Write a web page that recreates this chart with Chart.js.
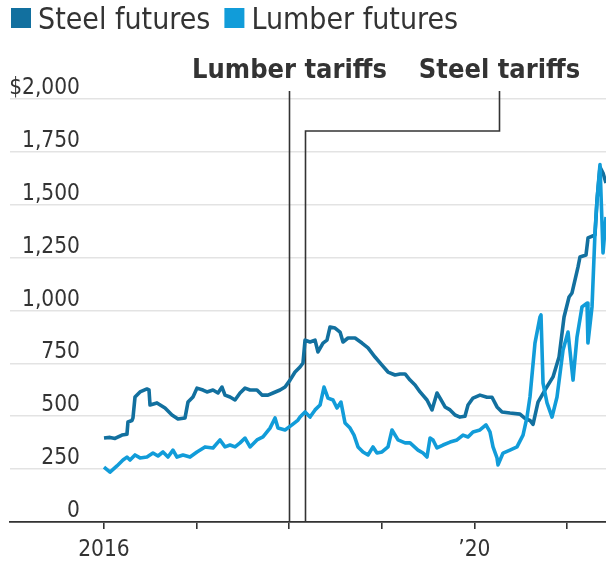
<!DOCTYPE html>
<html>
<head>
<meta charset="utf-8">
<script src="https://cdn.jsdelivr.net/npm/chart.js@4"></script>
<style>
  html, body { margin: 0; padding: 0; background: #fff; }
  #wrap { width: 606px; height: 568px; }
</style>
</head>
<body>
<div id="wrap"><canvas id="futuresChart" width="606" height="568"></canvas></div>
<script>
// Futures prices, dollars; dates are decimal years
const steelYears = [
  2016.000, 2016.065, 2016.119, 2016.194, 2016.248, 2016.259, 2016.302, 2016.313, 2016.335, 2016.389,
  2016.464, 2016.486, 2016.497, 2016.572, 2016.659, 2016.734, 2016.799, 2016.875, 2016.907, 2016.961,
  2017.004, 2017.069, 2017.112, 2017.177, 2017.231, 2017.274, 2017.307, 2017.361, 2017.415, 2017.469,
  2017.523, 2017.577, 2017.652, 2017.706, 2017.771, 2017.825, 2017.901, 2017.955, 2018.009, 2018.063,
  2018.117, 2018.149, 2018.171, 2018.225, 2018.279, 2018.311, 2018.365, 2018.408, 2018.441, 2018.495,
  2018.549, 2018.581, 2018.635, 2018.711, 2018.786, 2018.851, 2018.927, 2019.002, 2019.067, 2019.143,
  2019.197, 2019.251, 2019.305, 2019.359, 2019.413, 2019.488, 2019.542, 2019.596, 2019.629, 2019.683,
  2019.737, 2019.791, 2019.844, 2019.898, 2019.931, 2019.985, 2020.060, 2020.136, 2020.190, 2020.244,
  2020.298, 2020.384, 2020.492, 2020.546, 2020.600, 2020.633, 2020.687, 2020.762, 2020.849, 2020.914,
  2020.968, 2021.022, 2021.054, 2021.119, 2021.140, 2021.205, 2021.227, 2021.302, 2021.324, 2021.356,
  2021.389, 2021.421
];
const steelPrices = [
  397, 400, 395, 411, 415, 473, 480, 492, 591, 615,
  629, 625, 553, 563, 539, 506, 487, 492, 567, 591,
  633, 624, 615, 624, 610, 638, 600, 591, 577, 610,
  633, 624, 624, 600, 600, 610, 624, 638, 671, 709,
  733, 752, 860, 851, 860, 804, 846, 860, 922, 917,
  898, 851, 870, 870, 846, 823, 780, 742, 709, 695,
  700, 700, 671, 648, 615, 577, 530, 610, 586, 544,
  530, 506, 496, 500, 553, 586, 600, 590, 590, 544,
  520, 515, 510, 490, 480, 462, 567, 624, 686, 780,
  969, 1064, 1083, 1206, 1253, 1262, 1343, 1357, 1522, 1678,
  1650, 1603
];

const lumberYears = [
  2016.000, 2016.065, 2016.140, 2016.205, 2016.248, 2016.281, 2016.335, 2016.389, 2016.464, 2016.529,
  2016.583, 2016.637, 2016.691, 2016.745, 2016.788, 2016.853, 2016.929, 2017.004, 2017.091, 2017.177,
  2017.253, 2017.307, 2017.361, 2017.415, 2017.469, 2017.523, 2017.577, 2017.652, 2017.717, 2017.793,
  2017.847, 2017.879, 2017.955, 2018.030, 2018.095, 2018.117, 2018.171, 2018.225, 2018.279, 2018.333,
  2018.376, 2018.419, 2018.473, 2018.516, 2018.559, 2018.603, 2018.657, 2018.700, 2018.743, 2018.797,
  2018.851, 2018.905, 2018.948, 2019.002, 2019.067, 2019.110, 2019.175, 2019.251, 2019.305, 2019.391,
  2019.445, 2019.488, 2019.521, 2019.553, 2019.596, 2019.661, 2019.737, 2019.812, 2019.877, 2019.931,
  2019.985, 2020.060, 2020.125, 2020.168, 2020.201, 2020.244, 2020.255, 2020.309, 2020.384, 2020.460,
  2020.525, 2020.568, 2020.600, 2020.654, 2020.708, 2020.719, 2020.741, 2020.784, 2020.838, 2020.892,
  2020.957, 2021.011, 2021.065, 2021.108, 2021.162, 2021.216, 2021.226, 2021.270, 2021.302, 2021.324,
  2021.356, 2021.389, 2021.421
];
const lumberPrices = [
  260, 236, 265, 293, 307, 293, 317, 303, 307, 326,
  312, 331, 307, 340, 307, 317, 307, 331, 355, 350,
  388, 355, 364, 355, 374, 397, 355, 388, 402, 444,
  492, 444, 435, 459, 482, 496, 520, 496, 530, 553,
  638, 586, 577, 539, 567, 468, 444, 411, 355, 331,
  317, 355, 326, 331, 355, 435, 388, 374, 374, 340,
  326, 307, 397, 388, 350, 364, 378, 388, 411, 402,
  426, 435, 459, 426, 355, 303, 270, 326, 340, 355,
  411, 496, 591, 846, 969, 979, 657, 563, 496, 591,
  813, 898, 671, 875, 1017, 1035, 846, 1017, 1366, 1522,
  1690, 1272, 1442
];

const seriesNames = ['Steel futures', 'Lumber futures'];
const seriesColors = ['#12709f', '#119cd9'];
const yearTicks = [2016, 2017, 2018, 2019, 2020, 2021];
const yearLabels = ['2016', '', '', '', '\u201920', ''];
const priceTicks = [0, 250, 500, 750, 1000, 1250, 1500, 1750, 2000];
const tariffNames = ['Lumber tariffs', 'Steel tariffs'];
const tariffYears = [2018.0, 2018.17];

const FONT = "'Liberation Sans Narrow', 'DejaVu Sans Condensed', sans-serif";
const INK = '#333333';

function toPoints(xs, ys) {
  return xs.map((x, i) => ({ x: x, y: ys[i] }));
}

// legend, price labels and the tariff markers
const overlay = {
  id: 'overlay',
  beforeDatasetsDraw(chart) {
    const { ctx, chartArea, scales } = chart;
    const xl = Math.round(scales.x.getPixelForValue(tariffYears[0])) + 0.5;
    const xs = Math.round(scales.x.getPixelForValue(tariffYears[1])) + 0.5;
    const top = chartArea.top - 8;
    const elbowY = chartArea.top + 32;
    const elbowX = 499.5;
    ctx.save();
    ctx.strokeStyle = INK;
    ctx.lineWidth = 1.6;
    ctx.beginPath();
    ctx.moveTo(xl, top);
    ctx.lineTo(xl, chartArea.bottom);
    ctx.moveTo(elbowX, top);
    ctx.lineTo(elbowX, elbowY);
    ctx.lineTo(xs, elbowY);
    ctx.lineTo(xs, chartArea.bottom);
    ctx.stroke();

    ctx.fillStyle = INK;
    ctx.font = 'bold 27px ' + FONT;
    ctx.textAlign = 'center';
    ctx.textBaseline = 'alphabetic';
    ctx.fillText(tariffNames[0], xl, 78);
    ctx.fillText(tariffNames[1], elbowX, 78);
    ctx.restore();
  },
  afterDraw(chart) {
    const { ctx, scales } = chart;
    ctx.save();
    ctx.fillStyle = INK;
    ctx.font = '22.5px ' + FONT;
    ctx.textAlign = 'right';
    ctx.textBaseline = 'alphabetic';
    priceTicks.forEach(v => {
      const label = (v === 2000 ? '$' : '') + v.toLocaleString('en-US');
      ctx.fillText(label, 80, scales.y.getPixelForValue(v) - 5);
    });

    // legend
    ctx.font = '30px ' + FONT;
    ctx.textAlign = 'left';
    let x = 11;
    chart.data.datasets.slice().sort((a, b) => a.legendIndex - b.legendIndex).forEach(ds => {
      ctx.fillStyle = ds.borderColor;
      ctx.fillRect(x, 8, 20, 20);
      ctx.fillStyle = INK;
      ctx.fillText(ds.label, x + 27, 29);
      x += 27 + ctx.measureText(ds.label).width + 14;
    });
    ctx.restore();
  }
};

const ctxFutures = document.getElementById('futuresChart').getContext('2d');
new Chart(ctxFutures, {
  type: 'line',
  data: {
    datasets: [
      {
        label: seriesNames[1],
        legendIndex: 1,
        data: toPoints(lumberYears, lumberPrices),
        borderColor: seriesColors[1],
        borderWidth: 3.6,
        pointRadius: 0,
        tension: 0,
        borderJoinStyle: 'round'
      },
      {
        label: seriesNames[0],
        legendIndex: 0,
        data: toPoints(steelYears, steelPrices),
        borderColor: seriesColors[0],
        borderWidth: 3.6,
        pointRadius: 0,
        tension: 0,
        borderJoinStyle: 'round'
      }
    ]
  },
  options: {
    responsive: false,
    animation: false,
    events: [],
    layout: { padding: { top: 99, left: 10, right: 0, bottom: 0 } },
    plugins: { legend: { display: false }, tooltip: { enabled: false } },
    scales: {
      x: {
        type: 'linear',
        min: 2014.985,
        max: 2021.421,
        afterBuildTicks: s => { s.ticks = yearTicks.map(v => ({ value: v })); },
        afterFit: s => { s.height = 46; },
        ticks: {
          autoSkip: false,
          maxRotation: 0,
          padding: 8,
          color: INK,
          font: { family: FONT, size: 22.5 },
          callback: v => yearLabels[yearTicks.indexOf(v)] || ''
        },
        grid: { drawOnChartArea: false, drawTicks: true, tickLength: 7, color: INK, lineWidth: 1.6 },
        border: { display: true, color: INK, width: 1.8 }
      },
      y: {
        min: 0,
        max: 2000,
        afterBuildTicks: s => { s.ticks = priceTicks.map(v => ({ value: v })); },
        afterFit: s => { s.width = 0; },
        ticks: { display: false },
        grid: { color: '#e3e3e3', lineWidth: 1.6, drawTicks: false },
        border: { display: false }
      }
    }
  },
  plugins: [overlay]
});
</script>
</body>
</html>
